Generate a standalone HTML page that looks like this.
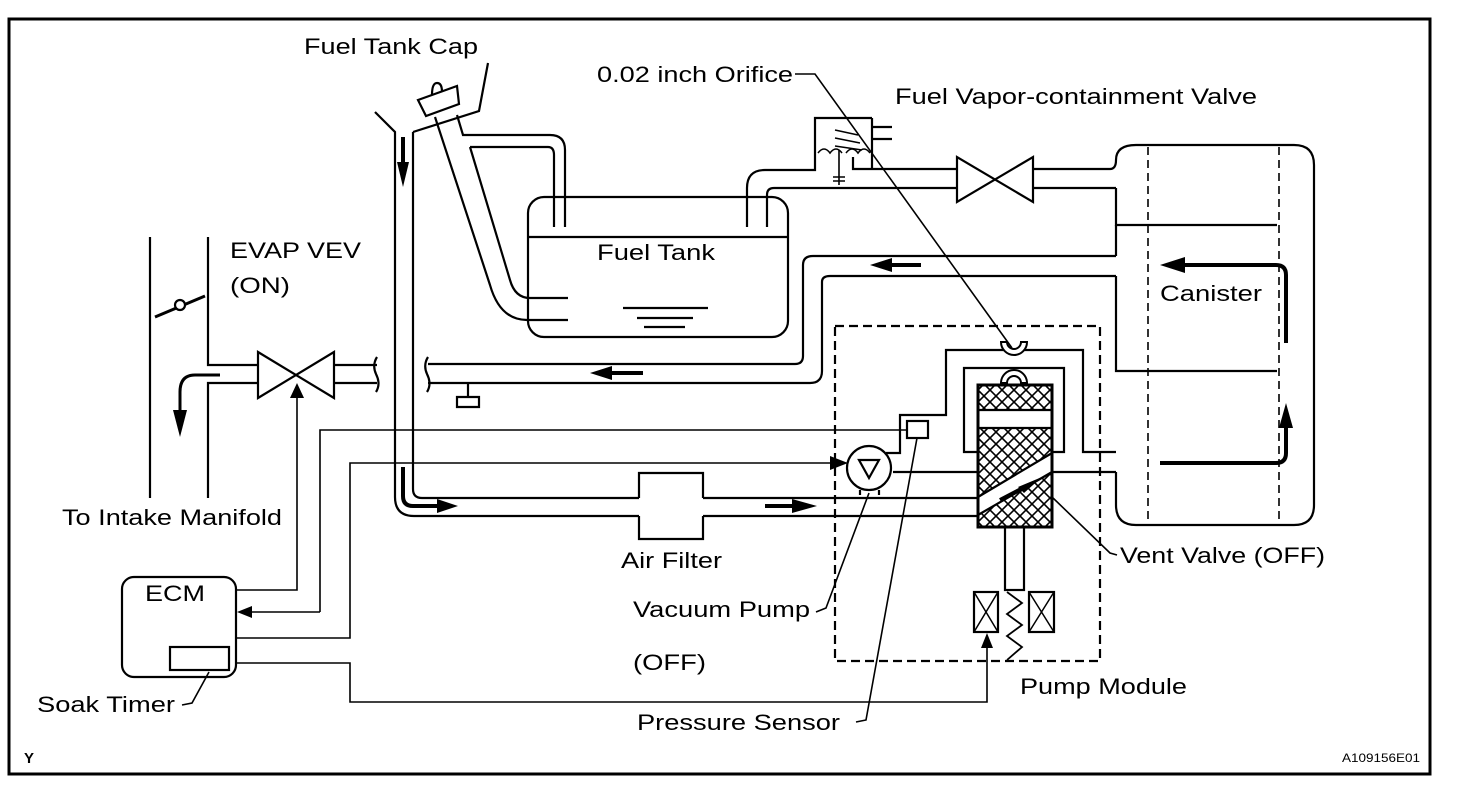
<!DOCTYPE html>
<html><head><meta charset="utf-8"><style>
html,body{margin:0;padding:0;background:#fff;}
svg{display:block;}
text{font-family:"Liberation Sans",Arial,sans-serif;fill:#000;}
</style></head><body>
<svg width="1472" height="796" viewBox="0 0 1472 796" xmlns="http://www.w3.org/2000/svg">
<defs>
<pattern id="xh" width="12" height="12" patternUnits="userSpaceOnUse">
<path d="M0,0 L12,12 M12,0 L0,12" stroke="#000" stroke-width="1.6"/>
</pattern>
</defs>
<rect x="0" y="0" width="1472" height="796" fill="#fff"/>
<rect x="9" y="19" width="1421" height="755" fill="none" stroke="#000" stroke-width="3"/>

<g fill="none" stroke="#000" stroke-width="2.2">
<!-- intake manifold -->
<line x1="150" y1="237" x2="150" y2="498"/>
<path d="M208,237 V365 H258 M208,498 V383 H258"/>
<line x1="155" y1="317" x2="205" y2="296" stroke-width="3"/>
<circle cx="180" cy="305" r="5" fill="#fff"/>
<path d="M220,375 H195 Q180,375 180,392 V412" stroke-width="3"/>
<!-- EVAP VSV -->
<path d="M258,352 L258,398 L334,352 L334,398 Z"/>
<path d="M334,365 H377 M334,383 H377"/>
<path d="M377,357 Q372,365 376,374 Q381,384 376,392"/>
<path d="M428,357 Q423,365 427,374 Q432,384 427,392"/>
<!-- long pipe -->
<path d="M428,364 H795 Q803,364 803,356 V265 Q803,256 813,256 H1116"/>
<path d="M428,383 H810 Q822,383 822,371 V282 Q822,276 830,276 H1116"/>
<path d="M468,384 V397 M457,397 H479 V407 H457 Z"/>
<!-- vertical pipe from cap -->
<path d="M375,112 L395,132 V497 Q395,516 414,516 H639"/>
<path d="M413,132 L479,111 L488,63"/>
<path d="M413,132 V489 Q413,498 422,498 H639"/>
<!-- air filter -->
<path d="M639,498 V473 H703 V498 M639,516 V539 H703 V516"/>
<path d="M703,498 H978 M703,516 H978"/>
<!-- filler neck -->
<path d="M418,100 L457,86 L459,104 L426,116 Z" fill="#fff"/>
<path d="M432,95 Q432,83 437,83 Q442,83 442,92"/>
<path d="M435,117 L490,285 Q500,320 527,320 H568"/>
<path d="M470,147 L510,280 Q515,298 530,298 H568"/>
<path d="M457,115 L463,135 H550 Q565,135 565,150 V227"/>
<path d="M470,147 H548 Q554,147 554,155 V227"/>
<!-- fuel tank -->
<rect x="528" y="197" width="260" height="140" rx="16"/>
<line x1="528" y1="237" x2="788" y2="237"/>
<path d="M747,227 V188 Q747,170 765,170 H815 V118 H872"/>
<path d="M767,227 V195 Q767,188 774,188 H957"/>
<path d="M623,308 H708 M637,318 H693 M644,327 H685"/>
<!-- vapor valve box -->
<path d="M872,127 H892 M872,139 H892 M872,118 V169 M853,157 V169 H957"/>
<path d="M818,153 q6,-8 12,0 q6,-8 12,0 M846,153 q6,-8 12,0 q6,-8 12,0" stroke-width="1.6"/>
<path d="M835,130 L858,135 M835,138 L860,143 M835,146 L862,150" stroke-width="1.6"/>
<path d="M839,150 V185 M833,177 H845 M833,181 H845" stroke-width="1.6"/>
<!-- containment valve -->
<path d="M957,157 L957,202 L1033,157 L1033,202 Z"/>
<path d="M1033,169 H1110 Q1116,169 1116,160 M1033,188 H1116"/>
<!-- canister -->
<path d="M1116,160 Q1116,145 1136,145 H1294 Q1314,145 1314,165 V505 Q1314,525 1294,525 H1136 Q1116,525 1116,505 V472"/>
<path d="M1116,188 V225 H1277 M1116,276 V371 H1277"/>
<path d="M1116,256 V225"/>
<path d="M1148,147 V523 M1279,147 V523" stroke-width="1.6" stroke-dasharray="8,5"/>
<!-- pump module tubing -->
<path d="M886,453 H900 V415 H946 V350 H1083 V452 H1116"/>
<path d="M978,452 H964 V368 H1064 V452 H1052"/>
<path d="M1052,472 H1116"/>
<path d="M893,472 H978"/>
<path d="M1001,342 A13,13 0 0 0 1027,342 L1021,342 A7,7 0 0 1 1007,342 Z" fill="#fff" stroke-width="2"/>
<path d="M1001,383 A13,13 0 0 1 1027,383 L1021,383 A7,7 0 0 0 1007,383 Z" fill="#fff" stroke-width="2"/>
<rect x="978" y="385" width="74" height="142" fill="url(#xh)"/>
<rect x="978" y="410" width="74" height="18" fill="#fff" stroke="none"/>
<path d="M978,497 L1052,453 L1052,472 L978,515 Z" fill="#fff" stroke="none"/>
<rect x="978" y="385" width="74" height="142" stroke-width="3"/>
<path d="M978,410 H1052 M978,428 H1052 M978,497 L1052,453 M978,515 L1052,472"/>
<rect x="1005" y="527" width="19" height="63"/>
<rect x="974" y="592" width="24" height="40"/>
<path d="M974,592 L998,632 M998,592 L974,632" stroke-width="1.5"/>
<rect x="1029" y="592" width="25" height="40"/>
<path d="M1029,592 L1054,632 M1054,592 L1029,632" stroke-width="1.5"/>
<path d="M1007,592 L1022,603 L1007,614 L1022,625 L1007,636 L1022,647 L1007,660" stroke-width="1.8"/>
<!-- vacuum pump -->
<circle cx="869" cy="468" r="22" fill="#fff"/>
<path d="M859,460 H879 L869,478 Z"/>
<path d="M860,490 V495 M879,490 V495"/>
<rect x="907" y="421" width="21" height="17"/>
<!-- dashed pump module -->
<rect x="835" y="326" width="265" height="335" stroke-dasharray="9,5"/>
<!-- ECM -->
<rect x="122" y="577" width="114" height="100" rx="12"/>
<rect x="170" y="647" width="59" height="23"/>
</g>

<!-- thin signal lines -->
<g fill="none" stroke="#000" stroke-width="1.6">
<path d="M297,540 V590 H237"/><path d="M297,540 V388"/>
<path d="M320,612 H245 M320,612 V430 H907"/>
<path d="M237,638 H350 V463 H830"/>
<path d="M237,663 H350 V702 H987 V640"/>
<path d="M209,672 L192,703 L182,705"/>
<path d="M869,493 L826,608 L816,612"/>
<path d="M917,438 L866,720 L856,722"/>
<path d="M1052,497 L1110,553 L1117,555"/>
<path d="M795,74 H815 L1012,348"/>
</g>

<!-- arrows -->
<g fill="#000" stroke="none">
<path d="M180,437 L173,410 L187,410 Z"/>
<path d="M297,383 L290,398 L304,398 Z"/>
<path d="M237,612 L252,606 L252,618 Z"/>
<path d="M848,463 L830,456 L830,470 Z"/>
<path d="M987,633 L981,648 L993,648 Z"/>
<path d="M403,187 L397,162 L409,162 Z"/>
<path d="M458,506 L437,499 L437,513 Z"/>
<path d="M817,506 L792,499 L792,513 Z"/>
<path d="M590,373 L612,366 L612,380 Z"/>
<path d="M870,265 L892,258 L892,272 Z"/>
<path d="M1160,265 L1185,257 L1185,273 Z"/>
<path d="M1286,403 L1279,428 L1293,428 Z"/>
<path d="M1042,477 L1018,487 L1024,493 Z"/>
</g>
<g fill="none" stroke="#000" stroke-width="4">
<line x1="403" y1="137" x2="403" y2="165"/>
<path d="M403,467 V496 Q403,506 413,506 H440"/>
<line x1="765" y1="506" x2="795" y2="506"/>
<line x1="610" y1="373" x2="643" y2="373"/>
<line x1="890" y1="265" x2="921" y2="265"/>
<path d="M1183,265 H1276 Q1286,265 1286,275 V343"/>
<path d="M1160,463 H1276 Q1286,463 1286,453 V425"/>
<line x1="1000" y1="500" x2="1025" y2="487"/>
</g>

<!-- labels -->
<g font-size="22">
<text x="304" y="54" textLength="174" lengthAdjust="spacingAndGlyphs">Fuel Tank Cap</text>
<text x="597" y="82" textLength="196" lengthAdjust="spacingAndGlyphs">0.02 inch Orifice</text>
<text x="895" y="104" textLength="362" lengthAdjust="spacingAndGlyphs">Fuel Vapor-containment Valve</text>
<text x="597" y="260" textLength="118" lengthAdjust="spacingAndGlyphs">Fuel Tank</text>
<text x="230" y="258" textLength="131" lengthAdjust="spacingAndGlyphs">EVAP VEV</text>
<text x="230" y="293" textLength="60" lengthAdjust="spacingAndGlyphs">(ON)</text>
<text x="1160" y="301" textLength="102" lengthAdjust="spacingAndGlyphs">Canister</text>
<text x="62" y="525" textLength="220" lengthAdjust="spacingAndGlyphs">To Intake Manifold</text>
<text x="621" y="568" textLength="101" lengthAdjust="spacingAndGlyphs">Air Filter</text>
<text x="1120" y="563" textLength="205" lengthAdjust="spacingAndGlyphs">Vent Valve (OFF)</text>
<text x="145" y="601" textLength="60" lengthAdjust="spacingAndGlyphs">ECM</text>
<text x="633" y="617" textLength="177" lengthAdjust="spacingAndGlyphs">Vacuum Pump</text>
<text x="633" y="670" textLength="73" lengthAdjust="spacingAndGlyphs">(OFF)</text>
<text x="1020" y="694" textLength="167" lengthAdjust="spacingAndGlyphs">Pump Module</text>
<text x="37" y="712" textLength="138" lengthAdjust="spacingAndGlyphs">Soak Timer</text>
<text x="637" y="730" textLength="203" lengthAdjust="spacingAndGlyphs">Pressure Sensor</text>
</g>
<text x="24" y="763" font-size="15" font-weight="bold">Y</text>
<text x="1342" y="762" font-size="12" textLength="78" lengthAdjust="spacingAndGlyphs">A109156E01</text>
</svg>
</body></html>
